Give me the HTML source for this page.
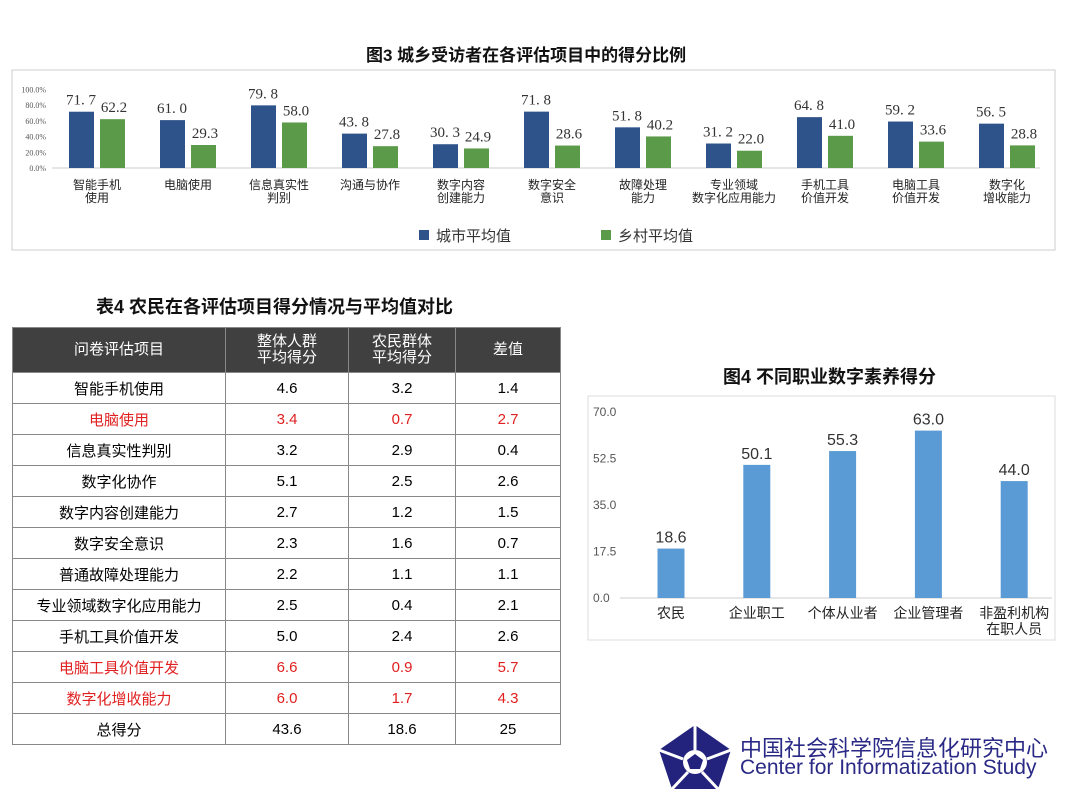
<!DOCTYPE html>
<html><head><meta charset="utf-8">
<style>
body{margin:0;width:1080px;height:805px;background:#fff;font-family:"Liberation Sans","Noto Sans CJK SC",sans-serif;overflow:hidden;position:relative}
.t{position:absolute;font-weight:bold;color:#111;white-space:nowrap}
table{position:absolute;left:12px;top:327px;border-collapse:collapse;font-size:15px}
td,th{border:1px solid #888;text-align:center;padding:0;height:30px}
th{background:#404040;color:#fff;font-weight:normal;height:44px;line-height:16px}
.r td{color:#e02020}
</style></head><body>
<div class="t" style="left:366px;top:41px;font-size:17px">图3 城乡受访者在各评估项目中的得分比例</div>
<svg id="c3" style="position:absolute;left:0;top:0" width="1080" height="260"></svg>
<div class="t" style="left:96px;top:293px;font-size:18px">表4 农民在各评估项目得分情况与平均值对比</div>
<table>
<tr><th style="width:212px">问卷评估项目</th><th style="width:122px">整体人群<br>平均得分</th><th style="width:106px">农民群体<br>平均得分</th><th style="width:104px">差值</th></tr>
<tr><td>智能手机使用</td><td>4.6</td><td>3.2</td><td>1.4</td></tr>
<tr class="r"><td>电脑使用</td><td>3.4</td><td>0.7</td><td>2.7</td></tr>
<tr><td>信息真实性判别</td><td>3.2</td><td>2.9</td><td>0.4</td></tr>
<tr><td>数字化协作</td><td>5.1</td><td>2.5</td><td>2.6</td></tr>
<tr><td>数字内容创建能力</td><td>2.7</td><td>1.2</td><td>1.5</td></tr>
<tr><td>数字安全意识</td><td>2.3</td><td>1.6</td><td>0.7</td></tr>
<tr><td>普通故障处理能力</td><td>2.2</td><td>1.1</td><td>1.1</td></tr>
<tr><td>专业领域数字化应用能力</td><td>2.5</td><td>0.4</td><td>2.1</td></tr>
<tr><td>手机工具价值开发</td><td>5.0</td><td>2.4</td><td>2.6</td></tr>
<tr class="r"><td>电脑工具价值开发</td><td>6.6</td><td>0.9</td><td>5.7</td></tr>
<tr class="r"><td>数字化增收能力</td><td>6.0</td><td>1.7</td><td>4.3</td></tr>
<tr><td>总得分</td><td>43.6</td><td>18.6</td><td>25</td></tr>
</table>
<div class="t" style="left:723px;top:363px;font-size:18px">图4 不同职业数字素养得分</div>
<svg id="c4" style="position:absolute;left:0;top:0" width="1080" height="660"></svg>
<svg style="position:absolute;left:655px;top:722px" width="80" height="70">
<polygon points="40,3 76,28 63,67 17,67 4,28" fill="#23237e"/>
<circle cx="40" cy="40" r="12" fill="#fff"/><polygon points="40,32 48,38 45,47 35,47 32,38" fill="#23237e"/>
<path d="M40,3 L40,28 M4,28 L28,37 M76,28 L52,37 M17,67 L33,50 M63,67 L47,50" stroke="#fff" stroke-width="3"/>
</svg>
<div style="position:absolute;left:740px;top:731px;font-size:22px;color:#2a2a86;white-space:nowrap">中国社会科学院信息化研究中心</div>
<div style="position:absolute;left:740px;top:756px;font-size:21px;color:#2a2a86;white-space:nowrap">Center for Informatization Study</div>
<script>
const cats3=["智能手机\n使用","电脑使用","信息真实性\n判别","沟通与协作","数字内容\n创建能力","数字安全\n意识","故障处理\n能力","专业领域\n数字化应用能力","手机工具\n价值开发","电脑工具\n价值开发","数字化\n增收能力"];
const city=[71.7,61.0,79.8,43.8,30.3,71.8,51.8,31.2,64.8,59.2,56.5];
const rural=[62.2,29.3,58.0,27.8,24.9,28.6,40.2,22.0,41.0,33.6,28.8];
const ticks3=[0,20,40,60,80,100];
const cats4=["农民","企业职工","个体从业者","企业管理者","非盈利机构\n在职人员"];
const vals4=[18.6,50.1,55.3,63.0,44.0];
const ticks4=[0,17.5,35,52.5,70];
const NS="http://www.w3.org/2000/svg";
function mk(svg,tag,a,txt){const e=document.createElementNS(NS,tag);for(const k in a)e.setAttribute(k,a[k]);if(txt!==undefined)e.textContent=txt;svg.appendChild(e);return e;}
const s3=document.getElementById('c3');
const fr=mk(s3,'rect',{x:12,y:70,width:1043,height:180,fill:'none',stroke:'#ccc'});


const y3=v=>168-v*0.785, x3=i=>69+i*91;
mk(s3,'line',{x1:52,x2:1040,y1:168,y2:168,stroke:'#ccc'});
ticks3.forEach(t=>{const e=mk(s3,'text',{x:46,y:y3(t)+3,'font-size':8,'text-anchor':'end',fill:'#555','font-family':'Liberation Serif'},t.toFixed(1)+'%');

});
cats3.forEach((c,i)=>{
 const b=mk(s3,'rect',{x:x3(i),y:y3(city[i]),width:25,height:168-y3(city[i]),fill:'#2e538a'});
 
 
 const g=mk(s3,'rect',{x:x3(i)+31,y:y3(rural[i]),width:25,height:168-y3(rural[i]),fill:'#5a9a48'});
 
 
 mk(s3,'text',{x:x3(i)+12,y:y3(city[i])-7,'font-size':15,'text-anchor':'middle',fill:'#333','font-family':'Liberation Serif'},city[i].toFixed(1).replace('.','. '));
 mk(s3,'text',{x:x3(i)+45,y:y3(rural[i])-7,'font-size':15,'text-anchor':'middle',fill:'#333','font-family':'Liberation Serif'},rural[i].toFixed(1));
 c.split('\n').forEach((l,j)=>{const e=mk(s3,'text',{x:x3(i)+28,y:189+j*13,'font-size':12,'text-anchor':'middle',fill:'#222'},l);
 
 });
});
mk(s3,'rect',{x:419,y:230,width:10,height:10,fill:'#2e538a'});
mk(s3,'text',{x:436,y:241,'font-size':15,fill:'#333'},'城市平均值');
mk(s3,'rect',{x:601,y:230,width:10,height:10,fill:'#5a9a48'});
mk(s3,'text',{x:618,y:241,'font-size':15,fill:'#333'},'乡村平均值');
const s4=document.getElementById('c4');
mk(s4,'rect',{x:588,y:396,width:467,height:244,fill:'none',stroke:'#ddd'});
const y4=v=>598-v*186/70, x4=i=>671+i*85.8;
mk(s4,'line',{x1:620,x2:1052,y1:598,y2:598,stroke:'#ccc'});
ticks4.forEach(t=>{const e=mk(s4,'text',{x:593,y:y4(t)+4,'font-size':12,fill:'#555'},t.toFixed(1));

});
cats4.forEach((c,i)=>{
 const b=mk(s4,'rect',{x:x4(i)-13.5,y:y4(vals4[i]),width:27,height:598-y4(vals4[i]),fill:'#5b9bd5'});
 
 
 mk(s4,'text',{x:x4(i),y:y4(vals4[i])-6,'font-size':16,'text-anchor':'middle',fill:'#333'},vals4[i].toFixed(1));
 c.split('\n').forEach((l,j)=>{const e=mk(s4,'text',{x:x4(i),y:618+j*16,'font-size':14,'text-anchor':'middle',fill:'#222'},l);
 
 });
});
</script>
</body></html>
